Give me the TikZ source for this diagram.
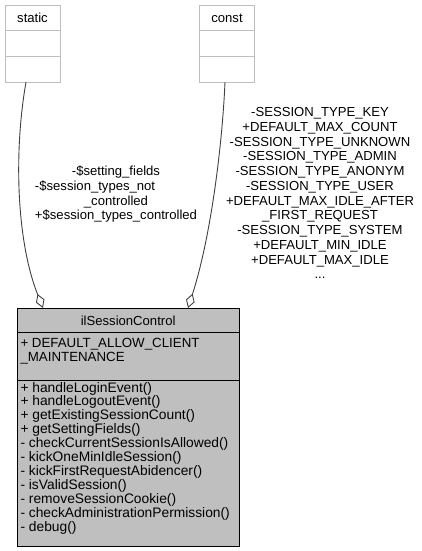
\documentclass[tikz,border=0pt]{standalone}
\usepackage{fontspec}
\setmainfont{Liberation Sans}
\usetikzlibrary{arrows.meta, positioning}
\definecolor{colframe}{HTML}{BFBFBF}
\definecolor{colclass}{HTML}{BFBFBF}
\definecolor{coledge}{HTML}{404040}
\newcommand{\umlfont}{\fontsize{13.1}{14.75}\selectfont}
\newcommand{\attrfont}{\fontsize{13.3}{14.2}\selectfont}
\newcommand{\opsfont}{\fontsize{13.8}{13.9}\selectfont}
% left-justified line inside a centred label
\newcommand{\lblleft}[2]{\rlap{#1}\phantom{#2}}
\tikzset{
    uml text/.style={font=\umlfont, inner sep=0pt, outer sep=0pt},
    tag part/.style={uml text, rectangle, draw=colframe, line width=0.9pt,
        fill=white, minimum width=55pt, minimum height=25.7pt},
    class part/.style={uml text, rectangle, draw=black, line width=0.9pt,
        fill=colclass, minimum width=221.7pt},
    member list/.style={uml text, align=left, anchor=base west},
    edge label/.style={uml text, align=center, anchor=base},
    uml edge/.style={draw=coledge, line width=0.9pt,
        -{Diamond[open, length=15pt, width=9pt]}},
}

\begin{document}
\begin{tikzpicture}[x=1pt, y=-1pt]

\useasboundingbox (0, 0) rectangle (422, 551);

% ===== TAG BOXES =====
\node[tag part] (staticT) at (32.5, 17.85) {static};
\node[tag part, below=0pt of staticT] (staticA) {};
\node[tag part, below=0pt of staticA] (staticO) {};
\node[tag part] (constT) at (227, 17.85) {const};
\node[tag part, below=0pt of constT] (constA) {};
\node[tag part, below=0pt of constA] (constO) {};

% ===== CLASS BOX =====
\node[class part, minimum height=24.7pt] (cls) at (128.15, 320.35) {ilSessionControl};
\node[class part, below=0pt of cls, minimum height=47.5pt] (clsAttr) {};
\node[class part, below=0pt of clsAttr, minimum height=166pt] (clsOps) {};
% base anchor sits on the last line
\node[member list, font=\attrfont] (clsAttrText) at (20.5, 361.3)
    {+ DEFAULT\_ALLOW\_CLIENT\\\_MAINTENANCE};
\node[member list, font=\opsfont] (clsOpsText) at (20.5, 531)
    {+ handleLoginEvent()\\+ handleLogoutEvent()\\+ getExistingSessionCount()\\%
     + getSettingFields()\\- checkCurrentSessionIsAllowed()\\- kickOneMinIdleSession()\\%
     - kickFirstRequestAbidencer()\\- isValidSession()\\- removeSessionCookie()\\%
     - checkAdministrationPermission()\\- debug()};

% ===== EDGE LABELS =====
\node[edge label] (staticLbl) at (116, 219.75)
    {-\$setting\_fields\\%
     \lblleft{-\$session\_types\_not}{+\$session\_types\_controlled}\\%
     \_controlled\\+\$session\_types\_controlled};
\node[edge label] (constLbl) at (320, 278.75)
    {-SESSION\_TYPE\_KEY\\+DEFAULT\_MAX\_COUNT\\-SESSION\_TYPE\_UNKNOWN\\-SESSION\_TYPE\_ADMIN\\%
     -SESSION\_TYPE\_ANONYM\\-SESSION\_TYPE\_USER\\+DEFAULT\_MAX\_IDLE\_AFTER\\\_FIRST\_REQUEST\\%
     -SESSION\_TYPE\_SYSTEM\\+DEFAULT\_MIN\_IDLE\\+DEFAULT\_MAX\_IDLE\\...};

% ===== EDGES =====
\draw[uml edge] ([xshift=-6.5pt]staticO.south) .. controls (14, 150) and (16, 240) .. ([xshift=-85.15pt]cls.north);
\draw[uml edge] ([xshift=-2pt]constO.south) .. controls (222, 150) and (210, 240) .. ([xshift=59.85pt]cls.north);

\end{tikzpicture}
\end{document}
